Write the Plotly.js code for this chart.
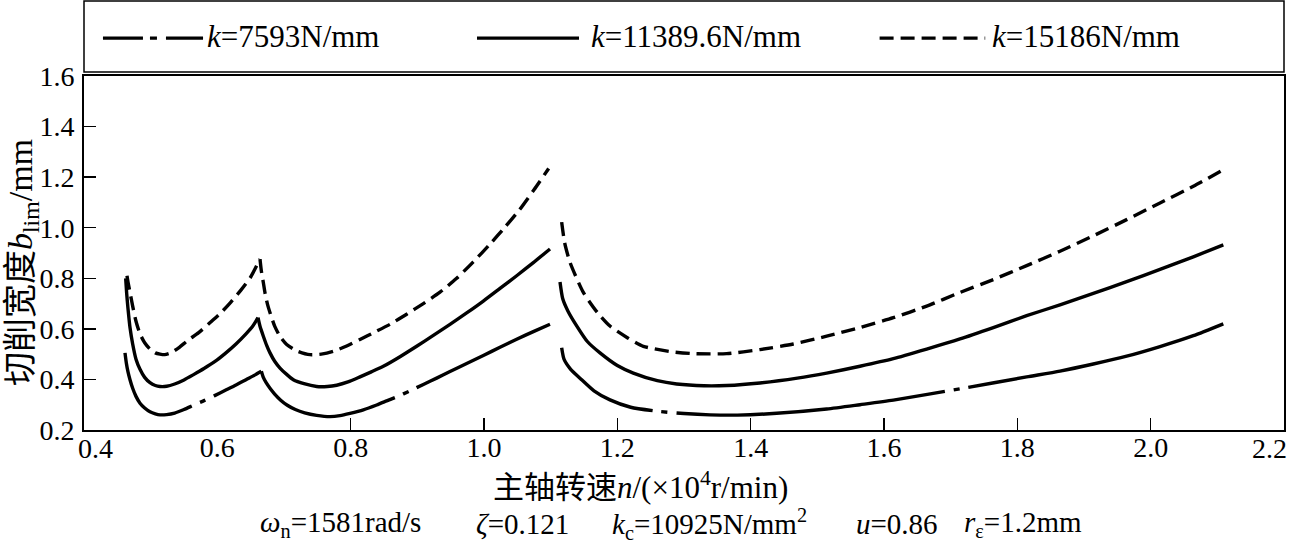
<!DOCTYPE html>
<html><head><meta charset="utf-8">
<script src="https://cdn.plot.ly/plotly-3.0.1.min.js"></script>
<style>html,body{margin:0;padding:0;background:#fff}#chart{width:1295px;height:548px}</style>
</head><body><div id="chart"></div>
<script>
// ---------- data ----------
const xTickVals = [0.4,0.6,0.8,1.0,1.2,1.4,1.6,1.8,2.0,2.2];
const xTickText = ["0.4","0.6","0.8","1.0","1.2","1.4","1.6","1.8","2.0","2.2"];
const xInnerTicks = [0.8,1.0,1.2,1.4,1.6,1.8,2.0];
const yTickVals = [0.2,0.4,0.6,0.8,1.0,1.2,1.4,1.6];
const yTickText = ["0.2","0.4","0.6","0.8","1.0","1.2","1.4","1.6"];

const seriesNames = ["<i>k</i>=7593N/mm","<i>k</i>=11389.6N/mm","<i>k</i>=15186N/mm"];

// k = 7593 N/mm (dash-dot)
const k1_l1_x = [0.4615,0.4635,0.466,0.469,0.473,0.478,0.484,0.491,0.499,0.507,0.514,0.524,0.536,0.55,0.565,0.58,0.596,0.612,0.628,0.643,0.656,0.666];
const k1_l1_y = [0.505,0.465,0.43,0.399,0.365,0.333,0.306,0.287,0.272,0.264,0.26,0.261,0.267,0.281,0.299,0.316,0.336,0.357,0.378,0.399,0.417,0.432];
const k1_l2_x = [0.666,0.669,0.673,0.679,0.686,0.695,0.705,0.717,0.731,0.749,0.769,0.784,0.799,0.819,0.839,0.854,0.869,0.889,0.909,0.929,0.949,0.974,0.999,1.024,1.049,1.074,1.099];
const k1_l2_y = [0.432,0.408,0.388,0.365,0.342,0.318,0.298,0.281,0.268,0.258,0.253,0.257,0.266,0.28,0.299,0.315,0.331,0.355,0.38,0.405,0.431,0.463,0.495,0.527,0.559,0.589,0.618];
const k1_l3_x = [1.1165,1.12,1.13,1.144,1.165,1.189,1.22,1.264,1.3,1.339,1.38,1.439,1.514,1.564,1.614,1.714,1.814,1.864,1.914,1.964,2.014,2.064,2.109];
const k1_l3_y = [0.525,0.48,0.44,0.405,0.355,0.319,0.29,0.273,0.265,0.26,0.259,0.266,0.283,0.3,0.318,0.363,0.41,0.433,0.461,0.492,0.53,0.573,0.62];

// k = 11389.6 N/mm (solid)
const k2_l1_x = [0.4625,0.464,0.466,0.469,0.473,0.478,0.484,0.491,0.499,0.507,0.514,0.524,0.536,0.55,0.565,0.58,0.596,0.612,0.628,0.643,0.653,0.661];
const k2_l1_y = [0.8,0.74,0.68,0.605,0.54,0.48,0.44,0.408,0.387,0.376,0.372,0.373,0.382,0.398,0.42,0.443,0.47,0.503,0.54,0.58,0.61,0.644];
const k2_l2_x = [0.661,0.664,0.669,0.674,0.679,0.686,0.694,0.704,0.714,0.73,0.749,0.765,0.779,0.796,0.814,0.831,0.849,0.874,0.899,0.924,0.949,0.974,0.999,1.024,1.049,1.074,1.099];
const k2_l2_y = [0.644,0.61,0.571,0.535,0.505,0.472,0.445,0.42,0.399,0.383,0.372,0.372,0.377,0.39,0.41,0.43,0.452,0.49,0.531,0.574,0.618,0.663,0.71,0.76,0.81,0.862,0.916];
const k2_l3_x = [1.114,1.118,1.126,1.139,1.155,1.174,1.2,1.224,1.26,1.289,1.33,1.364,1.414,1.47,1.514,1.564,1.614,1.664,1.714,1.764,1.814,1.864,1.914,1.964,2.014,2.064,2.109];
const k2_l3_y = [0.785,0.72,0.67,0.612,0.55,0.505,0.455,0.425,0.395,0.382,0.375,0.376,0.386,0.405,0.425,0.452,0.482,0.52,0.56,0.605,0.652,0.695,0.74,0.787,0.835,0.885,0.932];

// k = 15186 N/mm (dashed)
const k3_l1_x = [0.4645,0.466,0.469,0.473,0.478,0.484,0.491,0.499,0.507,0.514,0.521,0.53,0.542,0.556,0.572,0.588,0.604,0.62,0.636,0.65,0.664];
const k3_l1_y = [0.81,0.785,0.745,0.69,0.63,0.58,0.545,0.52,0.505,0.5,0.498,0.505,0.525,0.555,0.585,0.622,0.66,0.705,0.755,0.805,0.876];
const k3_l2_x = [0.664,0.666,0.669,0.672,0.676,0.681,0.686,0.694,0.704,0.72,0.739,0.756,0.774,0.794,0.814,0.836,0.859,0.884,0.909,0.934,0.959,0.984,1.009,1.03,1.053,1.075,1.097];
const k3_l2_y = [0.876,0.83,0.783,0.735,0.69,0.648,0.611,0.57,0.538,0.512,0.498,0.5,0.511,0.532,0.558,0.587,0.618,0.658,0.70,0.745,0.80,0.865,0.935,0.998,1.07,1.15,1.234];
const k3_l3_x = [1.1165,1.121,1.129,1.149,1.17,1.189,1.215,1.239,1.28,1.314,1.364,1.414,1.464,1.514,1.564,1.614,1.664,1.714,1.764,1.814,1.864,1.914,1.964,2.014,2.064,2.107];
const k3_l3_y = [1.022,0.94,0.863,0.744,0.665,0.611,0.565,0.531,0.51,0.502,0.502,0.518,0.54,0.571,0.605,0.644,0.69,0.744,0.795,0.85,0.907,0.968,1.032,1.098,1.164,1.226];

// ---------- styling ----------
const FONT = 'Liberation Serif, Noto Sans CJK SC, serif';
const TICKFONT = 'Liberation Serif, serif';
const LW = 3.4;
const dashDot1 = "110px,9px,6px,9px,600px";
const dashDot2 = "156px,9px,6px,9px,600px";
const dashDot3 = "118px,9px,6px,9px,270px,9px,6px,9px,600px";
const dashed = "14px,7px";

function tr(x, y, dash, name) {
  return {x: x, y: y, type: 'scatter', mode: 'lines', name: name, showlegend: false,
          line: {color: '#000', width: LW, dash: dash, shape: 'spline', smoothing: 0.6},
          hoverinfo: 'skip'};
}
const data = [
  tr(k1_l1_x, k1_l1_y, dashDot1, seriesNames[0]),
  tr(k1_l2_x, k1_l2_y, dashDot2, seriesNames[0]),
  tr(k1_l3_x, k1_l3_y, dashDot3, seriesNames[0]),
  tr(k2_l1_x, k2_l1_y, 'solid', seriesNames[1]),
  tr(k2_l2_x, k2_l2_y, 'solid', seriesNames[1]),
  tr(k2_l3_x, k2_l3_y, 'solid', seriesNames[1]),
  tr(k3_l1_x, k3_l1_y, dashed, seriesNames[2]),
  tr(k3_l2_x, k3_l2_y, dashed, seriesNames[2]),
  tr(k3_l3_x, k3_l3_y, dashed, seriesNames[2])
];

// legend (drawn in paper coordinates)
const legY = 1.107;
const legendLines = [
  {x0: 0.0158, x1: 0.0992, dash: "40px,7px,7px,9px,40px"},
  {x0: 0.3275, x1: 0.4125, dash: 'solid'},
  {x0: 0.663, x1: 0.751, dash: "14px,7px"}
];
const legendTextX = [0.1008, 0.4208, 0.7550];

const shapes = [
  {type: 'rect', xref: 'paper', yref: 'paper', x0: 0, x1: 1, y0: 1.0113, y1: 1.2119,
   line: {color: '#000', width: 1.5}, fillcolor: 'rgba(0,0,0,0)'}
];
legendLines.forEach(l => shapes.push({type: 'line', xref: 'paper', yref: 'paper',
  x0: l.x0, x1: l.x1, y0: legY, y1: legY, line: {color: '#000', width: LW, dash: l.dash}}));

const annotations = [];
seriesNames.forEach((n, i) => annotations.push({text: n, xref: 'paper', yref: 'paper',
  x: legendTextX[i], y: legY + 0.005, xanchor: 'left', yanchor: 'middle', showarrow: false,
  font: {family: FONT, size: 31, color: '#000'}}));

// end tick labels of the x axis sit inward from the corners
annotations.push({text: xTickText[0], xref: 'x', yref: 'paper', x: xTickVals[0], y: 0,
  xanchor: 'center', yanchor: 'top', xshift: 11, yshift: -1, showarrow: false,
  font: {family: TICKFONT, size: 28, color: '#000'}});
annotations.push({text: xTickText[xTickText.length - 1], xref: 'x', yref: 'paper',
  x: xTickVals[xTickVals.length - 1], y: 0, xanchor: 'center', yanchor: 'top', xshift: -15, yshift: -1,
  showarrow: false, font: {family: TICKFONT, size: 28, color: '#000'}});

annotations.push({text: '切削宽度<i>b</i><sub>lim</sub>/mm', xref: 'paper', yref: 'paper',
  x: -0.051, y: 0.474, textangle: -90, xanchor: 'center', yanchor: 'middle', showarrow: false,
  font: {family: FONT, size: 34, color: '#000'}});
annotations.push({text: '主轴转速<i>n</i>/(×10<sup>4</sup>r/min)', xref: 'paper', yref: 'paper',
  x: 0.464, y: -0.156, xanchor: 'center', yanchor: 'middle', showarrow: false,
  font: {family: FONT, size: 31, color: '#000'}});

const params = ['<i>ω</i><sub>n</sub>=1581rad/s', '<i>ζ</i>=0.121', '<i>k</i><sub>c</sub>=10925N/mm<sup>2</sup>', '<i>u</i>=0.86', '<i>r</i><sub>ε</sub>=1.2mm'];
const paramX = [258, 474, 610, 854, 962];
params.forEach((p, i) => annotations.push({text: p, xref: 'paper', yref: 'paper',
  x: (paramX[i] - 84) / 1200, y: -0.266, xanchor: 'left', yanchor: 'middle', showarrow: false,
  font: {family: FONT, size: 29, color: '#000'}}));

const layout = {
  width: 1295, height: 548,
  margin: {l: 84, r: 11, t: 76, b: 118},
  paper_bgcolor: '#fff', plot_bgcolor: '#fff',
  font: {family: FONT, size: 26, color: '#000'},
  showlegend: false,
  xaxis: {range: [0.4, 2.2], tickmode: 'array', tickvals: xTickVals.slice(1, -1), ticktext: xTickText.slice(1, -1),
          ticks: '', showgrid: false, zeroline: false, showline: true, mirror: true,
          linecolor: '#000', linewidth: 2, ticklabelstandoff: -9,
          tickfont: {family: TICKFONT, size: 28, color: '#000'},
          minor: {tickmode: 'array', tickvals: xInnerTicks, ticks: 'inside', ticklen: 12,
                  tickwidth: 1.5, tickcolor: '#000', showgrid: false}},
  yaxis: {range: [0.2, 1.6], tickmode: 'array', tickvals: yTickVals, ticktext: yTickText,
          ticks: 'inside', ticklen: 12, tickwidth: 1.5, tickcolor: '#000',
          showgrid: false, zeroline: false, showline: true, mirror: true,
          linecolor: '#000', linewidth: 2, ticklabelstandoff: 2,
          tickfont: {family: TICKFONT, size: 28, color: '#000'}},
  shapes: shapes,
  annotations: annotations
};

Plotly.newPlot('chart', data, layout, {displayModeBar: false, staticPlot: true});
</script></body></html>
